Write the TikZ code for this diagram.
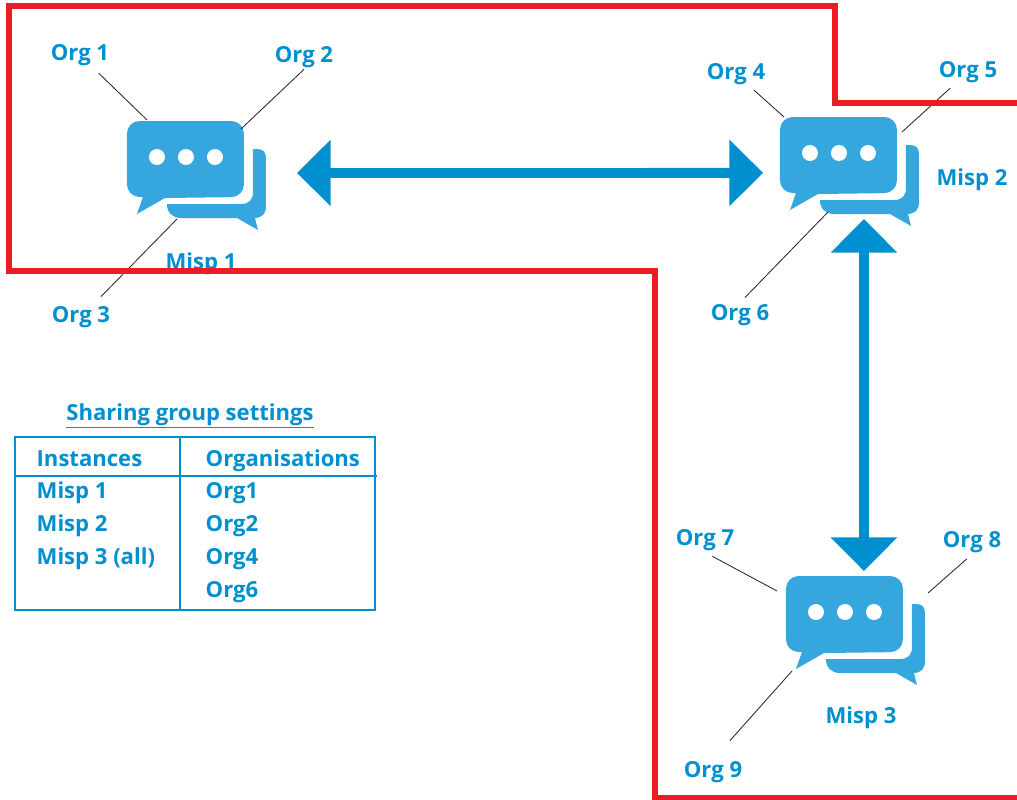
\documentclass[tikz,border=0pt]{standalone}
\usepackage{fontspec}
\setmainfont{Open Sans}
\usetikzlibrary{arrows.meta,positioning}
\definecolor{mispblue}{RGB}{0,144,208}
\definecolor{chatblue}{RGB}{54,166,222}
\definecolor{zonered}{RGB}{237,28,36}
\tikzset{
	chatbubble/.pic={
		\fill[chatblue] (40,83) -- (114,83) .. controls (122,83) and (126,79) .. (126,71) -- (126,28) -- (130,28) .. controls (136,28) and (139,31) .. (139,37) -- (139,85) .. controls (139,93) and (135,97) .. (127,97) -- (128,97) -- (131,109) -- (110,97) -- (54,97) .. controls (46,97) and (40,92) .. (40,83) -- cycle;
		\fill[chatblue] (16,76) [rounded corners=9pt] -- (0,76) -- (0,0) -- (117,0) -- (117,76) [sharp corners] -- (38,77) -- (10,93) -- cycle;
		\fill[white] (30,36) circle (8) (59,36) circle (8) (88,36) circle (8);
	},
	iconbox/.style={inner sep=0pt, outer sep=0pt, minimum width=98.9pt, minimum height=77.5pt},
	label/.style={text=mispblue, font=\fontsize{15.7}{18}\selectfont\bfseries, inner sep=1pt},
	cell/.style={label, anchor=base west},
	lead/.style={draw=black!85, line width=0.6pt},
	link/.style={draw=mispblue, line width=7pt, {Triangle[length=24pt,width=46pt]}-{Triangle[length=24pt,width=46pt]}},
	grid/.style={draw=mispblue, line width=1.1pt},
}
\begin{document}
\begin{tikzpicture}[x=0.025cm,y=-0.025cm]
	\useasboundingbox (0,0) rectangle (1017,800);

	\node[iconbox] (misp1) at (196.5,175.5) {};
	\node[iconbox] (misp2) at (849.5,171.5) {};
	\node[iconbox] (misp3) at (855.5,630.5) {};
	\pic at (misp1.north west) {chatbubble};
	\pic at (misp2.north west) {chatbubble};
	\pic at (misp3.north west) {chatbubble};

	\draw[link, shorten <=22pt, shorten >=12pt] ([yshift=1.8pt]misp1.east) -- ([yshift=-1pt]misp2.west);
	\draw[link, shorten <=-5pt, shorten >=3.5pt] ([xshift=10.3pt]misp2.south) -- ([xshift=6pt]misp3.north);

	\node[label] (misp1label) at (201,264) {Misp 1};
	\node[label] (misp2label) at (972,180) {Misp 2};
	\node[label] (misp3label) at (861,718) {Misp 3};

	\node[label] (org1) at (80,55) {Org 1};
	\node[label] (org2) at (304,57) {Org 2};
	\node[label] (org3) at (81,317) {Org 3};
	\node[label] (org4) at (736,74) {Org 4};
	\node[label] (org5) at (968,72) {Org 5};
	\node[label] (org6) at (740,315) {Org 6};
	\node[label] (org7) at (705,540) {Org 7};
	\node[label] (org8) at (972,542) {Org 8};
	\node[label] (org9) at (713,772) {Org 9};

	\coordinate (tip1) at (147,120);
	\coordinate (tip2) at (241,129);
	\coordinate (tip3) at (177,219);
	\coordinate (tip4) at (784,117);
	\coordinate (tip5) at (902,132);
	\coordinate (tip6) at (828,212);
	\coordinate (tip7) at (777,591);
	\coordinate (tip8) at (928,593);
	\coordinate (tip9) at (792,671);
	\draw[lead, shorten <=6pt] (org1) -- (tip1);
	\draw[lead] (org2.south) -- (tip2);
	\draw[lead, shorten <=8pt] (org3) -- (tip3);
	\draw[lead, shorten <=4pt] (org4) -- (tip4);
	\draw[lead, shorten <=4pt] (org5) -- (tip5);
	\draw[lead, shorten <=5pt] (org6.north) -- (tip6);
	\draw[lead, shorten <=6pt] (org7.south) -- (tip7);
	\draw[lead, shorten <=5pt] (org8.south) -- (tip8);
	\draw[lead, shorten <=18pt] (org9.north) -- (tip9);

	\draw[zonered, line width=3.6pt] (1017,103) -- (835,103) -- (835,6) -- (9,6) -- (9,271) -- (655,271) -- (655,798) -- (1017,798);

	% sharing group table
	\node[label] (title) at (190,416) {\underline{Sharing group settings}};
	\draw[grid] (15,437) rectangle (375,610);
	\draw[grid] (180,437) -- (180,610);
	\draw[grid] (15,476) -- (377,476);

	\node[cell] (instances) at (35,466) {Instances};
	\node[cell] (misprow1) at (35,498) {Misp 1};
	\node[cell] (misprow2) at (35,531) {Misp 2};
	\node[cell] (misprow3) at (35,564) {Misp 3 (all)};
	\node[cell] (organisations) at (204,466) {Organisations};
	\node[cell] (orgrow1) at (204,498) {Org1};
	\node[cell] (orgrow2) at (204,531) {Org2};
	\node[cell] (orgrow3) at (204,564) {Org4};
	\node[cell] (orgrow4) at (204,597) {Org6};
\end{tikzpicture}
\end{document}
